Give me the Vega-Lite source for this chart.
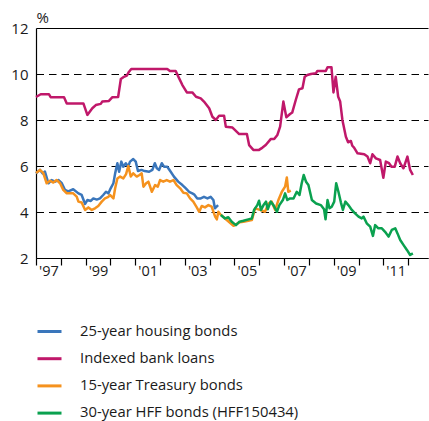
{
"$schema": "https://vega.github.io/schema/vega-lite/v6.json",
"autosize": {"type": "none"},
"width": 392,
"height": 230,
"padding": {"left": 36, "top": 28, "right": 1, "bottom": 163},
"background": "white",
"config": {"view": {"stroke": null}, "font": "Open Sans"},
"data": {"values": [
{"series": "25-year housing bonds", "year": 1997.00, "rate": 5.68},
{"series": "25-year housing bonds", "year": 1997.16, "rate": 5.83},
{"series": "25-year housing bonds", "year": 1997.27, "rate": 5.68},
{"series": "25-year housing bonds", "year": 1997.36, "rate": 5.76},
{"series": "25-year housing bonds", "year": 1997.50, "rate": 5.25},
{"series": "25-year housing bonds", "year": 1997.63, "rate": 5.39},
{"series": "25-year housing bonds", "year": 1997.77, "rate": 5.32},
{"series": "25-year housing bonds", "year": 1997.90, "rate": 5.39},
{"series": "25-year housing bonds", "year": 1998.04, "rate": 5.25},
{"series": "25-year housing bonds", "year": 1998.17, "rate": 4.96},
{"series": "25-year housing bonds", "year": 1998.30, "rate": 4.90},
{"series": "25-year housing bonds", "year": 1998.50, "rate": 4.99},
{"series": "25-year housing bonds", "year": 1998.71, "rate": 4.81},
{"series": "25-year housing bonds", "year": 1998.84, "rate": 4.74},
{"series": "25-year housing bonds", "year": 1998.98, "rate": 4.35},
{"series": "25-year housing bonds", "year": 1999.07, "rate": 4.52},
{"series": "25-year housing bonds", "year": 1999.21, "rate": 4.48},
{"series": "25-year housing bonds", "year": 1999.31, "rate": 4.59},
{"series": "25-year housing bonds", "year": 1999.45, "rate": 4.54},
{"series": "25-year housing bonds", "year": 1999.58, "rate": 4.59},
{"series": "25-year housing bonds", "year": 1999.71, "rate": 4.74},
{"series": "25-year housing bonds", "year": 1999.82, "rate": 4.88},
{"series": "25-year housing bonds", "year": 1999.92, "rate": 4.81},
{"series": "25-year housing bonds", "year": 2000.01, "rate": 5.03},
{"series": "25-year housing bonds", "year": 2000.12, "rate": 5.25},
{"series": "25-year housing bonds", "year": 2000.19, "rate": 5.68},
{"series": "25-year housing bonds", "year": 2000.28, "rate": 6.12},
{"series": "25-year housing bonds", "year": 2000.35, "rate": 5.75},
{"series": "25-year housing bonds", "year": 2000.44, "rate": 6.19},
{"series": "25-year housing bonds", "year": 2000.52, "rate": 5.97},
{"series": "25-year housing bonds", "year": 2000.62, "rate": 6.12},
{"series": "25-year housing bonds", "year": 2000.71, "rate": 5.97},
{"series": "25-year housing bonds", "year": 2000.79, "rate": 6.19},
{"series": "25-year housing bonds", "year": 2000.92, "rate": 6.30},
{"series": "25-year housing bonds", "year": 2001.02, "rate": 6.19},
{"series": "25-year housing bonds", "year": 2001.11, "rate": 5.78},
{"series": "25-year housing bonds", "year": 2001.25, "rate": 5.83},
{"series": "25-year housing bonds", "year": 2001.38, "rate": 5.78},
{"series": "25-year housing bonds", "year": 2001.56, "rate": 5.75},
{"series": "25-year housing bonds", "year": 2001.69, "rate": 5.83},
{"series": "25-year housing bonds", "year": 2001.79, "rate": 6.12},
{"series": "25-year housing bonds", "year": 2001.87, "rate": 5.90},
{"series": "25-year housing bonds", "year": 2001.96, "rate": 5.83},
{"series": "25-year housing bonds", "year": 2002.07, "rate": 6.12},
{"series": "25-year housing bonds", "year": 2002.16, "rate": 5.97},
{"series": "25-year housing bonds", "year": 2002.29, "rate": 5.97},
{"series": "25-year housing bonds", "year": 2002.43, "rate": 5.75},
{"series": "25-year housing bonds", "year": 2002.56, "rate": 5.54},
{"series": "25-year housing bonds", "year": 2002.73, "rate": 5.32},
{"series": "25-year housing bonds", "year": 2002.90, "rate": 5.17},
{"series": "25-year housing bonds", "year": 2003.04, "rate": 5.03},
{"series": "25-year housing bonds", "year": 2003.17, "rate": 4.88},
{"series": "25-year housing bonds", "year": 2003.30, "rate": 4.81},
{"series": "25-year housing bonds", "year": 2003.37, "rate": 4.77},
{"series": "25-year housing bonds", "year": 2003.50, "rate": 4.59},
{"series": "25-year housing bonds", "year": 2003.64, "rate": 4.59},
{"series": "25-year housing bonds", "year": 2003.77, "rate": 4.66},
{"series": "25-year housing bonds", "year": 2003.91, "rate": 4.59},
{"series": "25-year housing bonds", "year": 2004.04, "rate": 4.66},
{"series": "25-year housing bonds", "year": 2004.15, "rate": 4.52},
{"series": "25-year housing bonds", "year": 2004.21, "rate": 4.16},
{"series": "25-year housing bonds", "year": 2004.34, "rate": 4.30},
{"series": "Indexed bank loans", "year": 1997.00, "rate": 9.00},
{"series": "Indexed bank loans", "year": 1997.19, "rate": 9.12},
{"series": "Indexed bank loans", "year": 1997.52, "rate": 9.12},
{"series": "Indexed bank loans", "year": 1997.59, "rate": 8.99},
{"series": "Indexed bank loans", "year": 1998.13, "rate": 8.99},
{"series": "Indexed bank loans", "year": 1998.24, "rate": 8.72},
{"series": "Indexed bank loans", "year": 1998.91, "rate": 8.72},
{"series": "Indexed bank loans", "year": 1999.07, "rate": 8.22},
{"series": "Indexed bank loans", "year": 1999.27, "rate": 8.51},
{"series": "Indexed bank loans", "year": 1999.41, "rate": 8.65},
{"series": "Indexed bank loans", "year": 1999.61, "rate": 8.70},
{"series": "Indexed bank loans", "year": 1999.67, "rate": 8.80},
{"series": "Indexed bank loans", "year": 1999.94, "rate": 8.83},
{"series": "Indexed bank loans", "year": 2000.08, "rate": 8.99},
{"series": "Indexed bank loans", "year": 2000.31, "rate": 9.00},
{"series": "Indexed bank loans", "year": 2000.42, "rate": 9.78},
{"series": "Indexed bank loans", "year": 2000.52, "rate": 9.86},
{"series": "Indexed bank loans", "year": 2000.66, "rate": 9.93},
{"series": "Indexed bank loans", "year": 2000.75, "rate": 10.10},
{"series": "Indexed bank loans", "year": 2000.84, "rate": 10.22},
{"series": "Indexed bank loans", "year": 2002.29, "rate": 10.22},
{"series": "Indexed bank loans", "year": 2002.40, "rate": 10.13},
{"series": "Indexed bank loans", "year": 2002.63, "rate": 10.13},
{"series": "Indexed bank loans", "year": 2002.77, "rate": 9.81},
{"series": "Indexed bank loans", "year": 2002.90, "rate": 9.52},
{"series": "Indexed bank loans", "year": 2003.08, "rate": 9.20},
{"series": "Indexed bank loans", "year": 2003.30, "rate": 9.20},
{"series": "Indexed bank loans", "year": 2003.45, "rate": 9.01},
{"series": "Indexed bank loans", "year": 2003.64, "rate": 8.94},
{"series": "Indexed bank loans", "year": 2003.77, "rate": 8.80},
{"series": "Indexed bank loans", "year": 2003.98, "rate": 8.51},
{"series": "Indexed bank loans", "year": 2004.11, "rate": 8.14},
{"series": "Indexed bank loans", "year": 2004.25, "rate": 8.00},
{"series": "Indexed bank loans", "year": 2004.38, "rate": 8.19},
{"series": "Indexed bank loans", "year": 2004.58, "rate": 8.19},
{"series": "Indexed bank loans", "year": 2004.65, "rate": 7.71},
{"series": "Indexed bank loans", "year": 2004.92, "rate": 7.67},
{"series": "Indexed bank loans", "year": 2005.19, "rate": 7.39},
{"series": "Indexed bank loans", "year": 2005.50, "rate": 7.39},
{"series": "Indexed bank loans", "year": 2005.59, "rate": 6.91},
{"series": "Indexed bank loans", "year": 2005.76, "rate": 6.70},
{"series": "Indexed bank loans", "year": 2005.99, "rate": 6.70},
{"series": "Indexed bank loans", "year": 2006.13, "rate": 6.80},
{"series": "Indexed bank loans", "year": 2006.26, "rate": 6.91},
{"series": "Indexed bank loans", "year": 2006.46, "rate": 7.17},
{"series": "Indexed bank loans", "year": 2006.60, "rate": 7.17},
{"series": "Indexed bank loans", "year": 2006.73, "rate": 7.35},
{"series": "Indexed bank loans", "year": 2006.84, "rate": 7.71},
{"series": "Indexed bank loans", "year": 2006.97, "rate": 8.80},
{"series": "Indexed bank loans", "year": 2007.09, "rate": 8.12},
{"series": "Indexed bank loans", "year": 2007.24, "rate": 8.26},
{"series": "Indexed bank loans", "year": 2007.33, "rate": 8.33},
{"series": "Indexed bank loans", "year": 2007.47, "rate": 8.87},
{"series": "Indexed bank loans", "year": 2007.60, "rate": 9.33},
{"series": "Indexed bank loans", "year": 2007.74, "rate": 9.38},
{"series": "Indexed bank loans", "year": 2007.83, "rate": 9.88},
{"series": "Indexed bank loans", "year": 2007.94, "rate": 9.96},
{"series": "Indexed bank loans", "year": 2008.08, "rate": 10.00},
{"series": "Indexed bank loans", "year": 2008.28, "rate": 10.03},
{"series": "Indexed bank loans", "year": 2008.34, "rate": 10.13},
{"series": "Indexed bank loans", "year": 2008.68, "rate": 10.13},
{"series": "Indexed bank loans", "year": 2008.75, "rate": 10.29},
{"series": "Indexed bank loans", "year": 2008.91, "rate": 10.29},
{"series": "Indexed bank loans", "year": 2008.99, "rate": 9.20},
{"series": "Indexed bank loans", "year": 2009.08, "rate": 9.88},
{"series": "Indexed bank loans", "year": 2009.18, "rate": 9.01},
{"series": "Indexed bank loans", "year": 2009.26, "rate": 8.80},
{"series": "Indexed bank loans", "year": 2009.35, "rate": 8.00},
{"series": "Indexed bank loans", "year": 2009.49, "rate": 7.27},
{"series": "Indexed bank loans", "year": 2009.58, "rate": 7.03},
{"series": "Indexed bank loans", "year": 2009.69, "rate": 7.09},
{"series": "Indexed bank loans", "year": 2009.75, "rate": 6.88},
{"series": "Indexed bank loans", "year": 2009.82, "rate": 6.80},
{"series": "Indexed bank loans", "year": 2009.96, "rate": 6.55},
{"series": "Indexed bank loans", "year": 2010.23, "rate": 6.51},
{"series": "Indexed bank loans", "year": 2010.36, "rate": 6.41},
{"series": "Indexed bank loans", "year": 2010.47, "rate": 6.12},
{"series": "Indexed bank loans", "year": 2010.56, "rate": 6.51},
{"series": "Indexed bank loans", "year": 2010.70, "rate": 6.33},
{"series": "Indexed bank loans", "year": 2010.87, "rate": 6.26},
{"series": "Indexed bank loans", "year": 2011.00, "rate": 5.49},
{"series": "Indexed bank loans", "year": 2011.10, "rate": 6.19},
{"series": "Indexed bank loans", "year": 2011.23, "rate": 6.12},
{"series": "Indexed bank loans", "year": 2011.33, "rate": 5.97},
{"series": "Indexed bank loans", "year": 2011.46, "rate": 5.97},
{"series": "Indexed bank loans", "year": 2011.57, "rate": 6.41},
{"series": "Indexed bank loans", "year": 2011.68, "rate": 6.12},
{"series": "Indexed bank loans", "year": 2011.81, "rate": 5.90},
{"series": "Indexed bank loans", "year": 2011.97, "rate": 6.41},
{"series": "Indexed bank loans", "year": 2012.08, "rate": 5.83},
{"series": "Indexed bank loans", "year": 2012.19, "rate": 5.61},
{"series": "15-year Treasury bonds", "year": 1997.00, "rate": 5.70},
{"series": "15-year Treasury bonds", "year": 1997.16, "rate": 5.83},
{"series": "15-year Treasury bonds", "year": 1997.29, "rate": 5.70},
{"series": "15-year Treasury bonds", "year": 1997.43, "rate": 5.25},
{"series": "15-year Treasury bonds", "year": 1997.56, "rate": 5.36},
{"series": "15-year Treasury bonds", "year": 1997.70, "rate": 5.28},
{"series": "15-year Treasury bonds", "year": 1997.83, "rate": 5.39},
{"series": "15-year Treasury bonds", "year": 1997.97, "rate": 5.25},
{"series": "15-year Treasury bonds", "year": 1998.10, "rate": 4.96},
{"series": "15-year Treasury bonds", "year": 1998.24, "rate": 4.81},
{"series": "15-year Treasury bonds", "year": 1998.50, "rate": 4.81},
{"series": "15-year Treasury bonds", "year": 1998.64, "rate": 4.67},
{"series": "15-year Treasury bonds", "year": 1998.71, "rate": 4.45},
{"series": "15-year Treasury bonds", "year": 1998.84, "rate": 4.41},
{"series": "15-year Treasury bonds", "year": 1998.98, "rate": 4.09},
{"series": "15-year Treasury bonds", "year": 1999.11, "rate": 4.20},
{"series": "15-year Treasury bonds", "year": 1999.25, "rate": 4.09},
{"series": "15-year Treasury bonds", "year": 1999.38, "rate": 4.16},
{"series": "15-year Treasury bonds", "year": 1999.51, "rate": 4.26},
{"series": "15-year Treasury bonds", "year": 1999.65, "rate": 4.45},
{"series": "15-year Treasury bonds", "year": 1999.78, "rate": 4.59},
{"series": "15-year Treasury bonds", "year": 1999.92, "rate": 4.66},
{"series": "15-year Treasury bonds", "year": 1999.98, "rate": 4.74},
{"series": "15-year Treasury bonds", "year": 2000.12, "rate": 4.59},
{"series": "15-year Treasury bonds", "year": 2000.19, "rate": 5.03},
{"series": "15-year Treasury bonds", "year": 2000.28, "rate": 5.46},
{"series": "15-year Treasury bonds", "year": 2000.39, "rate": 5.54},
{"series": "15-year Treasury bonds", "year": 2000.52, "rate": 5.46},
{"series": "15-year Treasury bonds", "year": 2000.63, "rate": 5.65},
{"series": "15-year Treasury bonds", "year": 2000.72, "rate": 6.00},
{"series": "15-year Treasury bonds", "year": 2000.82, "rate": 5.54},
{"series": "15-year Treasury bonds", "year": 2000.92, "rate": 5.68},
{"series": "15-year Treasury bonds", "year": 2001.06, "rate": 5.54},
{"series": "15-year Treasury bonds", "year": 2001.17, "rate": 5.61},
{"series": "15-year Treasury bonds", "year": 2001.26, "rate": 5.68},
{"series": "15-year Treasury bonds", "year": 2001.33, "rate": 5.10},
{"series": "15-year Treasury bonds", "year": 2001.44, "rate": 5.25},
{"series": "15-year Treasury bonds", "year": 2001.53, "rate": 5.32},
{"series": "15-year Treasury bonds", "year": 2001.67, "rate": 4.88},
{"series": "15-year Treasury bonds", "year": 2001.80, "rate": 5.17},
{"series": "15-year Treasury bonds", "year": 2001.91, "rate": 5.10},
{"series": "15-year Treasury bonds", "year": 2002.00, "rate": 5.39},
{"series": "15-year Treasury bonds", "year": 2002.13, "rate": 5.32},
{"series": "15-year Treasury bonds", "year": 2002.27, "rate": 5.39},
{"series": "15-year Treasury bonds", "year": 2002.40, "rate": 5.32},
{"series": "15-year Treasury bonds", "year": 2002.54, "rate": 5.39},
{"series": "15-year Treasury bonds", "year": 2002.67, "rate": 5.17},
{"series": "15-year Treasury bonds", "year": 2002.81, "rate": 5.03},
{"series": "15-year Treasury bonds", "year": 2002.94, "rate": 4.84},
{"series": "15-year Treasury bonds", "year": 2003.08, "rate": 4.81},
{"series": "15-year Treasury bonds", "year": 2003.21, "rate": 4.59},
{"series": "15-year Treasury bonds", "year": 2003.34, "rate": 4.45},
{"series": "15-year Treasury bonds", "year": 2003.48, "rate": 4.20},
{"series": "15-year Treasury bonds", "year": 2003.58, "rate": 4.01},
{"series": "15-year Treasury bonds", "year": 2003.68, "rate": 4.26},
{"series": "15-year Treasury bonds", "year": 2003.81, "rate": 4.20},
{"series": "15-year Treasury bonds", "year": 2003.95, "rate": 4.30},
{"series": "15-year Treasury bonds", "year": 2004.08, "rate": 4.23},
{"series": "15-year Treasury bonds", "year": 2004.22, "rate": 3.80},
{"series": "15-year Treasury bonds", "year": 2004.29, "rate": 3.68},
{"series": "15-year Treasury bonds", "year": 2004.35, "rate": 4.01},
{"series": "15-year Treasury bonds", "year": 2004.42, "rate": 3.91},
{"series": "15-year Treasury bonds", "year": 2004.62, "rate": 3.72},
{"series": "15-year Treasury bonds", "year": 2004.96, "rate": 3.40},
{"series": "15-year Treasury bonds", "year": 2005.20, "rate": 3.55},
{"series": "15-year Treasury bonds", "year": 2005.36, "rate": 3.58},
{"series": "15-year Treasury bonds", "year": 2005.56, "rate": 3.62},
{"series": "15-year Treasury bonds", "year": 2005.70, "rate": 3.65},
{"series": "15-year Treasury bonds", "year": 2005.83, "rate": 4.16},
{"series": "15-year Treasury bonds", "year": 2006.03, "rate": 4.09},
{"series": "15-year Treasury bonds", "year": 2006.23, "rate": 4.01},
{"series": "15-year Treasury bonds", "year": 2006.37, "rate": 4.37},
{"series": "15-year Treasury bonds", "year": 2006.50, "rate": 4.45},
{"series": "15-year Treasury bonds", "year": 2006.64, "rate": 4.09},
{"series": "15-year Treasury bonds", "year": 2006.77, "rate": 4.52},
{"series": "15-year Treasury bonds", "year": 2006.91, "rate": 4.88},
{"series": "15-year Treasury bonds", "year": 2007.04, "rate": 5.10},
{"series": "15-year Treasury bonds", "year": 2007.11, "rate": 5.50},
{"series": "15-year Treasury bonds", "year": 2007.17, "rate": 4.88},
{"series": "15-year Treasury bonds", "year": 2007.27, "rate": 4.93},
{"series": "30-year HFF bonds (HFF150434)", "year": 2004.45, "rate": 3.87},
{"series": "30-year HFF bonds (HFF150434)", "year": 2004.62, "rate": 3.72},
{"series": "30-year HFF bonds (HFF150434)", "year": 2004.75, "rate": 3.77},
{"series": "30-year HFF bonds (HFF150434)", "year": 2004.89, "rate": 3.58},
{"series": "30-year HFF bonds (HFF150434)", "year": 2005.06, "rate": 3.43},
{"series": "30-year HFF bonds (HFF150434)", "year": 2005.20, "rate": 3.58},
{"series": "30-year HFF bonds (HFF150434)", "year": 2005.36, "rate": 3.62},
{"series": "30-year HFF bonds (HFF150434)", "year": 2005.56, "rate": 3.68},
{"series": "30-year HFF bonds (HFF150434)", "year": 2005.70, "rate": 3.72},
{"series": "30-year HFF bonds (HFF150434)", "year": 2005.79, "rate": 4.09},
{"series": "30-year HFF bonds (HFF150434)", "year": 2005.92, "rate": 4.30},
{"series": "30-year HFF bonds (HFF150434)", "year": 2005.99, "rate": 4.49},
{"series": "30-year HFF bonds (HFF150434)", "year": 2006.07, "rate": 4.09},
{"series": "30-year HFF bonds (HFF150434)", "year": 2006.17, "rate": 4.30},
{"series": "30-year HFF bonds (HFF150434)", "year": 2006.27, "rate": 4.45},
{"series": "30-year HFF bonds (HFF150434)", "year": 2006.34, "rate": 4.12},
{"series": "30-year HFF bonds (HFF150434)", "year": 2006.46, "rate": 4.45},
{"series": "30-year HFF bonds (HFF150434)", "year": 2006.57, "rate": 4.30},
{"series": "30-year HFF bonds (HFF150434)", "year": 2006.71, "rate": 4.01},
{"series": "30-year HFF bonds (HFF150434)", "year": 2006.81, "rate": 4.30},
{"series": "30-year HFF bonds (HFF150434)", "year": 2006.95, "rate": 4.52},
{"series": "30-year HFF bonds (HFF150434)", "year": 2007.04, "rate": 4.81},
{"series": "30-year HFF bonds (HFF150434)", "year": 2007.13, "rate": 4.52},
{"series": "30-year HFF bonds (HFF150434)", "year": 2007.24, "rate": 4.59},
{"series": "30-year HFF bonds (HFF150434)", "year": 2007.38, "rate": 4.59},
{"series": "30-year HFF bonds (HFF150434)", "year": 2007.51, "rate": 4.88},
{"series": "30-year HFF bonds (HFF150434)", "year": 2007.62, "rate": 4.74},
{"series": "30-year HFF bonds (HFF150434)", "year": 2007.71, "rate": 5.25},
{"series": "30-year HFF bonds (HFF150434)", "year": 2007.79, "rate": 5.61},
{"series": "30-year HFF bonds (HFF150434)", "year": 2007.89, "rate": 5.30},
{"series": "30-year HFF bonds (HFF150434)", "year": 2007.98, "rate": 5.17},
{"series": "30-year HFF bonds (HFF150434)", "year": 2008.12, "rate": 4.52},
{"series": "30-year HFF bonds (HFF150434)", "year": 2008.29, "rate": 4.37},
{"series": "30-year HFF bonds (HFF150434)", "year": 2008.48, "rate": 4.30},
{"series": "30-year HFF bonds (HFF150434)", "year": 2008.61, "rate": 4.12},
{"series": "30-year HFF bonds (HFF150434)", "year": 2008.67, "rate": 3.68},
{"series": "30-year HFF bonds (HFF150434)", "year": 2008.75, "rate": 4.52},
{"series": "30-year HFF bonds (HFF150434)", "year": 2008.83, "rate": 4.16},
{"series": "30-year HFF bonds (HFF150434)", "year": 2008.92, "rate": 4.23},
{"series": "30-year HFF bonds (HFF150434)", "year": 2009.02, "rate": 4.45},
{"series": "30-year HFF bonds (HFF150434)", "year": 2009.10, "rate": 5.25},
{"series": "30-year HFF bonds (HFF150434)", "year": 2009.19, "rate": 4.88},
{"series": "30-year HFF bonds (HFF150434)", "year": 2009.29, "rate": 4.41},
{"series": "30-year HFF bonds (HFF150434)", "year": 2009.37, "rate": 4.09},
{"series": "30-year HFF bonds (HFF150434)", "year": 2009.47, "rate": 4.45},
{"series": "30-year HFF bonds (HFF150434)", "year": 2009.59, "rate": 4.30},
{"series": "30-year HFF bonds (HFF150434)", "year": 2009.73, "rate": 4.09},
{"series": "30-year HFF bonds (HFF150434)", "year": 2009.86, "rate": 3.94},
{"series": "30-year HFF bonds (HFF150434)", "year": 2010.00, "rate": 3.80},
{"series": "30-year HFF bonds (HFF150434)", "year": 2010.13, "rate": 3.72},
{"series": "30-year HFF bonds (HFF150434)", "year": 2010.20, "rate": 3.80},
{"series": "30-year HFF bonds (HFF150434)", "year": 2010.33, "rate": 3.51},
{"series": "30-year HFF bonds (HFF150434)", "year": 2010.47, "rate": 3.36},
{"series": "30-year HFF bonds (HFF150434)", "year": 2010.58, "rate": 2.96},
{"series": "30-year HFF bonds (HFF150434)", "year": 2010.67, "rate": 3.43},
{"series": "30-year HFF bonds (HFF150434)", "year": 2010.80, "rate": 3.29},
{"series": "30-year HFF bonds (HFF150434)", "year": 2010.94, "rate": 3.29},
{"series": "30-year HFF bonds (HFF150434)", "year": 2011.07, "rate": 3.14},
{"series": "30-year HFF bonds (HFF150434)", "year": 2011.21, "rate": 2.93},
{"series": "30-year HFF bonds (HFF150434)", "year": 2011.34, "rate": 3.22},
{"series": "30-year HFF bonds (HFF150434)", "year": 2011.48, "rate": 3.29},
{"series": "30-year HFF bonds (HFF150434)", "year": 2011.57, "rate": 3.07},
{"series": "30-year HFF bonds (HFF150434)", "year": 2011.68, "rate": 2.78},
{"series": "30-year HFF bonds (HFF150434)", "year": 2011.81, "rate": 2.57},
{"series": "30-year HFF bonds (HFF150434)", "year": 2011.95, "rate": 2.35},
{"series": "30-year HFF bonds (HFF150434)", "year": 2012.08, "rate": 2.13},
{"series": "30-year HFF bonds (HFF150434)", "year": 2012.19, "rate": 2.20}
]},
"mark": {"type": "line", "strokeWidth": 2.5, "strokeJoin": "round"},
"encoding": {
  "x": {"field": "year", "type": "quantitative",
    "scale": {"domain": [1997, 2012.8], "nice": false, "zero": false},
    "axis": {"title": null, "values": [1997,1998,1999,2000,2001,2002,2003,2004,2005,2006,2007,2008,2009,2010,2011,2012],
      "labelExpr": "datum.value % 2 == 1 ? \"'\" + substring(toString(datum.value), 2) : ''",
      "grid": false, "domainColor": "black", "domainWidth": 1.2, "tickColor": "black", "tickSize": 7, "tickWidth": 1.2,
      "labelOffset": 12.4, "labelPadding": -1, "labelFontSize": 14.5, "labelColor": "#1a1a1a",
      "labelOverlap": false, "labelFlush": false, "labelBound": false}},
  "y": {"field": "rate", "type": "quantitative",
    "scale": {"domain": [2, 12], "nice": false, "zero": false},
    "axis": {"title": "%", "titleAngle": 0, "titleAlign": "left", "titleBaseline": "alphabetic", "titleX": 0, "titleY": -6,
      "titleFontWeight": "normal", "titleFontSize": 15, "titleColor": "#1a1a1a",
      "values": [2,4,6,8,10,12], "ticks": false, "grid": true, "gridColor": "black", "gridWidth": 1,
      "gridDash": {"condition": {"test": "datum.value == 12", "value": []}, "value": [7.5, 5]},
      "domainColor": "black", "domainWidth": 1.2, "labelFontSize": 15, "labelPadding": 8, "labelColor": "#1a1a1a"}},
  "color": {"field": "series", "type": "nominal",
    "scale": {"domain": ["25-year housing bonds", "Indexed bank loans", "15-year Treasury bonds", "30-year HFF bonds (HFF150434)"],
      "range": ["#3a76bb", "#c0186a", "#f5921e", "#0aa14f"]},
    "legend": {"orient": "none", "legendX": 0, "legendY": 290, "direction": "vertical", "title": null,
      "symbolType": "stroke", "symbolSize": 576, "symbolStrokeWidth": 3, "labelLimit": 0,
      "labelFontSize": 14.8, "labelOffset": 17, "rowPadding": 6.2, "labelColor": "#1a1a1a"}}
}
}
